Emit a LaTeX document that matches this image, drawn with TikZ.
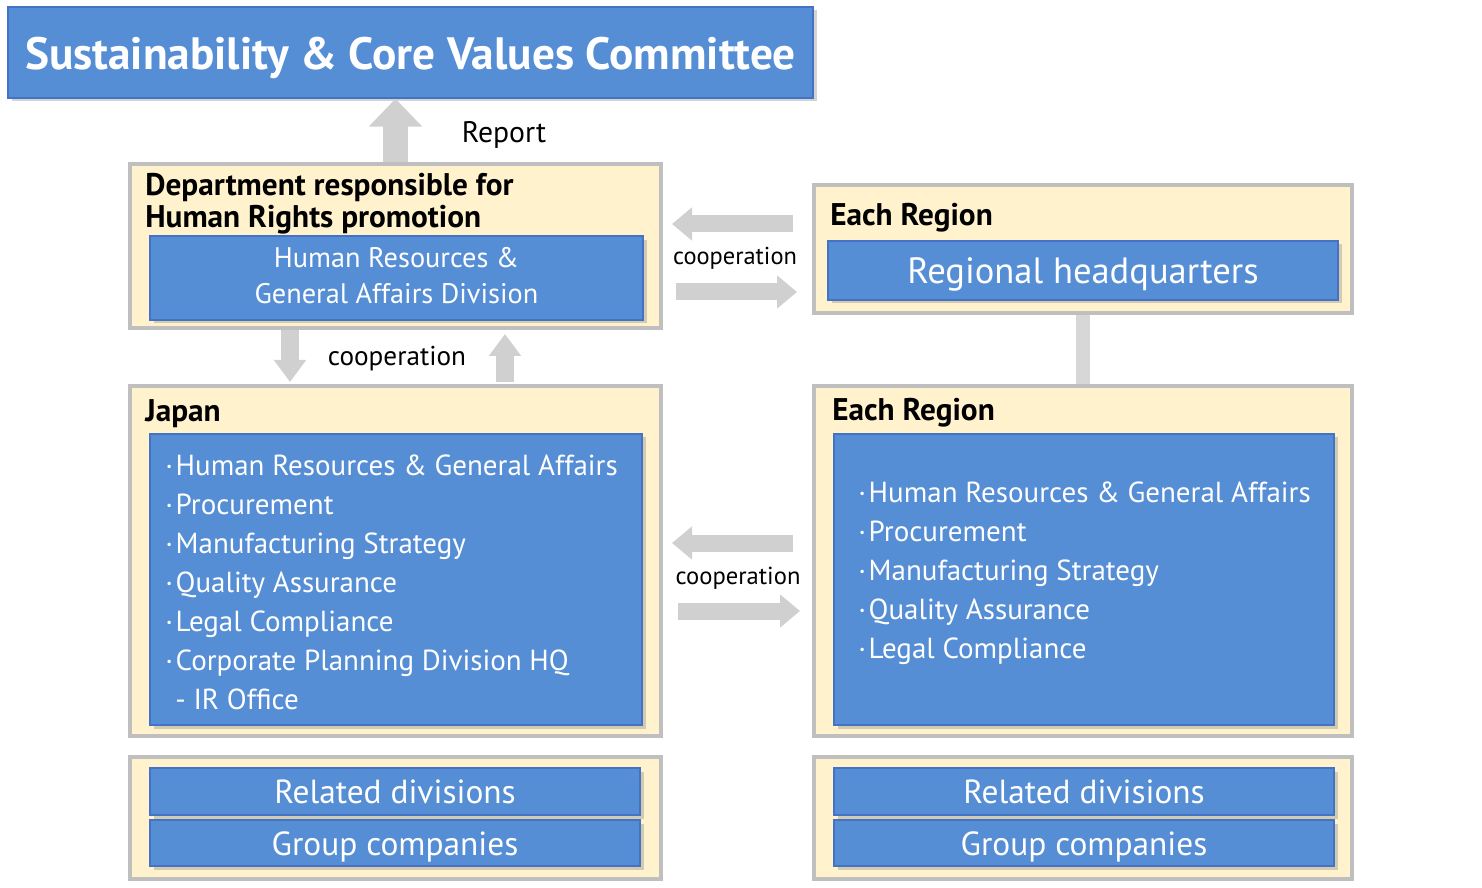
\documentclass[tikz,border=0pt]{standalone}
\usepackage{fontspec}
\setmainfont{PT Sans}
\usetikzlibrary{arrows.meta,shadows}
\definecolor{bluefill}{HTML}{558ED5}
\definecolor{blueline}{HTML}{4472C4}
\definecolor{cream}{HTML}{FFF2CC}
\definecolor{boxgray}{HTML}{BFBFBF}
\definecolor{arrowgray}{HTML}{D0D0D0}
\tikzset{
  outerbox/.style={draw=boxgray, line width=2.3pt, fill=cream},
  bluebox/.style={draw=blueline, line width=0.8pt, fill=bluefill, text=white,
    drop shadow={shadow xshift=0.07cm, shadow yshift=-0.07cm, opacity=0.35}},
  headtext/.style={font=\fontsize{17.8}{18.2}\selectfont\bfseries, inner sep=0pt, anchor=west},
  listtext/.style={font=\fontsize{16.5}{22.2}\selectfont, inner sep=0pt, anchor=west, text=white},
  coop/.style={draw=arrowgray, line width=0.34cm, -{Triangle[length=0.4cm,width=0.64cm]}},
  coopv/.style={draw=arrowgray, line width=0.36cm, -{Triangle[length=0.44cm,width=0.62cm]}},
}
\newcommand{\mdot}{·\hspace{1.5pt}}
\newcommand{\dropby}[2]{\raisebox{-#1}[\height][\depth]{#2}}
\begin{document}
\begin{tikzpicture}
    \renewcommand{\arraystretch}{1}
    \useasboundingbox (0,0) rectangle (29.64,-17.76);

    % Committee
    \node[bluebox, minimum width=16.1cm, minimum height=1.82cm,
        font=\fontsize{25.8}{30}\selectfont\bfseries] (title) at (8.21,-1.05)
        {\dropby{3pt}{Sustainability \& Core Values Committee}};

    % Outer boxes
    \node[outerbox, minimum width=10.62cm, minimum height=3.28cm] (dept) at (7.91,-4.92) {};
    \node[outerbox, minimum width=10.76cm, minimum height=2.56cm] (regtop) at (21.66,-4.98) {};
    \node[outerbox, minimum width=10.62cm, minimum height=7.0cm] (japan) at (7.91,-11.22) {};
    \node[outerbox, minimum width=10.76cm, minimum height=7.0cm] (regbot) at (21.66,-11.22) {};
    \node[outerbox, minimum width=10.62cm, minimum height=2.44cm] (groupL) at (7.91,-16.36) {};
    \node[outerbox, minimum width=10.76cm, minimum height=2.44cm] (groupR) at (21.66,-16.36) {};

    % Headings
    \node[headtext] (deptlabel) at (2.9,-4.1) {
        \begin{tabular}{@{}l@{}}
            Department responsible for \\
            Human Rights promotion
        \end{tabular}
    };
    \node[headtext] (regtoplabel) at (16.6,-4.36) {Each Region};
    \node[headtext] (japanlabel) at (2.9,-8.28) {Japan};
    \node[headtext] (regbotlabel) at (16.64,-8.26) {Each Region};

    % Blue blocks
    \node[bluebox, minimum width=9.86cm, minimum height=1.6cm,
        font=\fontsize{16.1}{20.5}\selectfont] (deptdiv) at (7.93,-5.56) {
        \begin{tabular}{c}
            Human Resources \& \\
            General Affairs Division
        \end{tabular}
    };
    \node[bluebox, minimum width=10.2cm, minimum height=1.18cm,
        font=\fontsize{20.8}{24}\selectfont] (reghq) at (21.66,-5.41) {\dropby{2.3pt}{Regional headquarters}};
    \node[bluebox, minimum width=9.84cm, minimum height=5.82cm] (japandiv) at (7.92,-11.59) {};
    \node[bluebox, minimum width=10.0cm, minimum height=5.82cm] (regdiv) at (21.68,-11.59) {};
    \node[bluebox, minimum width=9.8cm, minimum height=0.94cm,
        font=\fontsize{19}{21}\selectfont] (relL) at (7.9,-15.83) {Related divisions};
    \node[bluebox, minimum width=9.8cm, minimum height=0.92cm,
        font=\fontsize{19}{21}\selectfont] (grpL) at (7.9,-16.86) {\dropby{2pt}{Group companies}};
    \node[bluebox, minimum width=10.0cm, minimum height=0.94cm,
        font=\fontsize{19}{21}\selectfont] (relR) at (21.68,-15.83) {Related divisions};
    \node[bluebox, minimum width=10.0cm, minimum height=0.92cm,
        font=\fontsize{19}{21}\selectfont] (grpR) at (21.68,-16.86) {\dropby{2pt}{Group companies}};

    % Lists
    \node[listtext] (japanlist) at (3.3,-11.69) {
        \begin{tabular}{@{}l@{}}
            \mdot Human Resources \& General Affairs \\
            \mdot Procurement \\
            \mdot Manufacturing Strategy \\
            \mdot Quality Assurance \\
            \mdot Legal Compliance \\
            \mdot Corporate Planning Division HQ \\
            \hspace{0.2cm}- IR Office
        \end{tabular}
    };
    \node[listtext] (reglist) at (17.16,-11.45) {
        \begin{tabular}{@{}l@{}}
            \mdot Human Resources \& General Affairs \\
            \mdot Procurement \\
            \mdot Manufacturing Strategy \\
            \mdot Quality Assurance \\
            \mdot Legal Compliance
        \end{tabular}
    };

    % Arrow ends
    \coordinate (topLa) at (15.86,-4.48);
    \coordinate (topLb) at (13.44,-4.48);
    \coordinate (topRa) at (13.52,-5.84);
    \coordinate (topRb) at (15.94,-5.84);
    \coordinate (midLa) at (15.86,-10.86);
    \coordinate (midLb) at (13.44,-10.86);
    \coordinate (midRa) at (13.56,-12.22);
    \coordinate (midRb) at (16.0,-12.22);
    \coordinate (downa) at (5.8,-6.6);
    \coordinate (downb) at (5.8,-7.64);
    \coordinate (upa) at (10.1,-7.64);
    \coordinate (upb) at (10.1,-6.68);

    % Arrows
    \draw[draw=arrowgray, line width=0.5cm, -{Triangle[length=0.56cm,width=1.04cm]}]
        (dept.north) -- (dept.north |- title.south);
    \draw[coop] (topLa) -- (topLb);
    \draw[coop] (topRa) -- (topRb);
    \draw[coop] (midLa) -- (midLb);
    \draw[coop] (midRa) -- (midRb);
    \draw[coopv] (downa) -- (downb);
    \draw[coopv] (upa) -- (upb);
    \draw[draw=arrowgray!85!white, line width=0.28cm] (regtop.south) -- (regbot.north);

    % Labels
    \node[font=\fontsize{16.9}{19}\selectfont] (reportlabel) at (10.08,-2.7) {Report};
    \node[font=\fontsize{13.9}{16}\selectfont] (cooplabel1) at (14.7,-5.16) {cooperation};
    \node[font=\fontsize{15.5}{17}\selectfont] (cooplabel2) at (7.94,-7.18) {cooperation};
    \node[font=\fontsize{14}{16}\selectfont] (cooplabel3) at (14.76,-11.56) {cooperation};

\end{tikzpicture}
\end{document}
